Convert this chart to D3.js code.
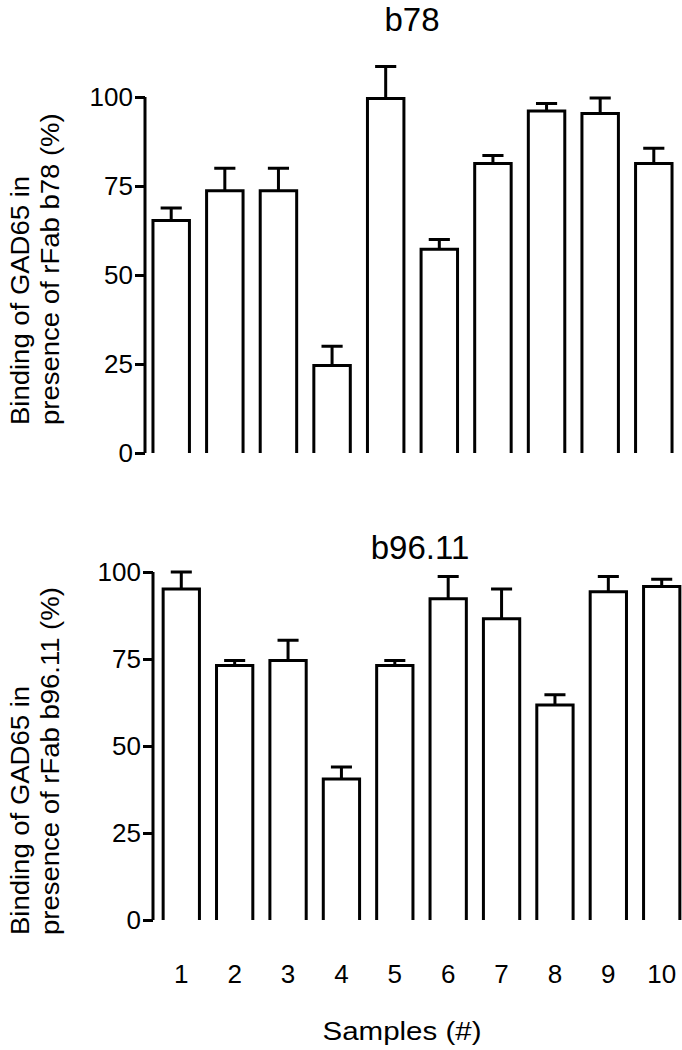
<!DOCTYPE html>
<html>
<head>
<meta charset="utf-8">
<script src="https://cdn.jsdelivr.net/npm/d3@7"></script>
<style>
  html, body { margin: 0; padding: 0; background: #fff; }
  svg { display: block; font-family: "Liberation Sans", Arial, sans-serif; }
</style>
</head>
<body>
<svg id="chart" width="682" height="1050"></svg>
<script>
const samples = ['1', '2', '3', '4', '5', '6', '7', '8', '9', '10']
const yTicks  = [0, 25, 50, 75, 100]

// panel A: rFab b78
const b78Mean = [65.3, 73.7, 73.7, 24.6, 99.6, 57.2, 81.3, 96.1, 95.4, 81.3]
const b78Err  = [68.8, 80.0, 80.0, 30.0, 108.6, 60.0, 83.6, 98.2, 99.7, 85.6]

// panel B: rFab b96.11
const b96Mean = [95.1, 73.1, 74.6, 40.5, 73.1, 92.3, 86.6, 61.8, 94.3, 95.8]
const b96Err  = [100.0, 74.6, 80.4, 44.0, 74.6, 98.7, 95.1, 64.7, 98.7, 97.9]

const svg = d3.select('#chart')
const INK = '#000'
const LW  = 3

function panel(opts) {
  const { mean, err, title, yLabel, axisX, y0, y100, xRange, padOuter, titleX, titleY, labelY } = opts

  const x = d3.scaleBand().domain(samples).range(xRange)
    .paddingInner(0.32).paddingOuter(padOuter)
  const y = d3.scaleLinear().domain([0, 100]).range([y0, y100])

  const g = svg.append('g')

  // y axis only, the original has no x axis line
  const axis = g.append('g')
    .attr('transform', `translate(${axisX},0)`)
    .call(d3.axisLeft(y).tickValues(yTicks).tickSize(10).tickPadding(2))
  axis.select('.domain').attr('stroke', INK).attr('stroke-width', LW)
    .attr('d', `M0,${y0}V${y100}`)
  axis.selectAll('.tick line').attr('stroke', INK).attr('stroke-width', LW)
  axis.selectAll('.tick text')
    .attr('fill', INK)
    .attr('font-size', '26px')
    .attr('font-family', '"Liberation Sans", Arial, sans-serif')

  // bars, open at the bottom
  g.append('g').selectAll('path')
    .data(samples)
    .join('path')
      .attr('d', (s, i) => {
        const l = x(s), r = x(s) + x.bandwidth()
        return `M${l},${y(0)}V${y(mean[i])}H${r}V${y(0)}`
      })
      .attr('fill', '#fff')
      .attr('stroke', INK)
      .attr('stroke-width', LW)

  // upper error bars
  const capW = x.bandwidth() * 0.58
  g.append('g').attr('stroke', INK).attr('stroke-width', LW).attr('fill', 'none')
    .selectAll('path')
    .data(samples)
    .join('path')
      .attr('d', (s, i) => {
        const cx = x(s) + x.bandwidth() / 2
        return `M${cx},${y(mean[i])}V${y(err[i])}M${cx - capW / 2},${y(err[i])}H${cx + capW / 2}`
      })

  g.append('text')
    .attr('x', titleX).attr('y', titleY)
    .attr('text-anchor', 'middle')
    .attr('font-size', '33px')
    .attr('fill', INK)
    .text(title)

  // two-line y label, slightly wide lettering like the original
  const yl = g.append('text')
    .attr('transform', `translate(29,${labelY}) rotate(-90) scale(1.1,1)`)
    .attr('font-size', '25px')
    .attr('fill', INK)
  yLabel.forEach((t, i) => {
    yl.append('tspan').attr('x', 0).attr('dy', i === 0 ? 0 : 30).text(t)
  })

  return x
}

panel({
  mean: b78Mean, err: b78Err, title: 'b78',
  yLabel: ['Binding of GAD65 in', 'presence of rFab b78 (%)'],
  axisX: 145, y0: 453, y100: 97, xRange: [146, 679], padOuter: 0.13,
  titleX: 412, titleY: 31, labelY: 425
})

const xB = panel({
  mean: b96Mean, err: b96Err, title: 'b96.11',
  yLabel: ['Binding of GAD65 in', 'presence of rFab b96.11 (%)'],
  axisX: 153, y0: 920, y100: 572, xRange: [153, 690], padOuter: 0.19,
  titleX: 420, titleY: 559, labelY: 935
})

// sample numbers under the lower panel
svg.append('g').selectAll('text')
  .data(samples)
  .join('text')
    .attr('x', s => xB(s) + xB.bandwidth() / 2)
    .attr('y', 983)
    .attr('text-anchor', 'middle')
    .attr('font-size', '26px')
    .attr('fill', INK)
    .text(s => s)

svg.append('text')
  .attr('transform', 'translate(402,1040) scale(1.18,1)')
  .attr('text-anchor', 'middle')
  .attr('font-size', '25px')
  .attr('fill', INK)
  .text('Samples (#)')
</script>
</body>
</html>
